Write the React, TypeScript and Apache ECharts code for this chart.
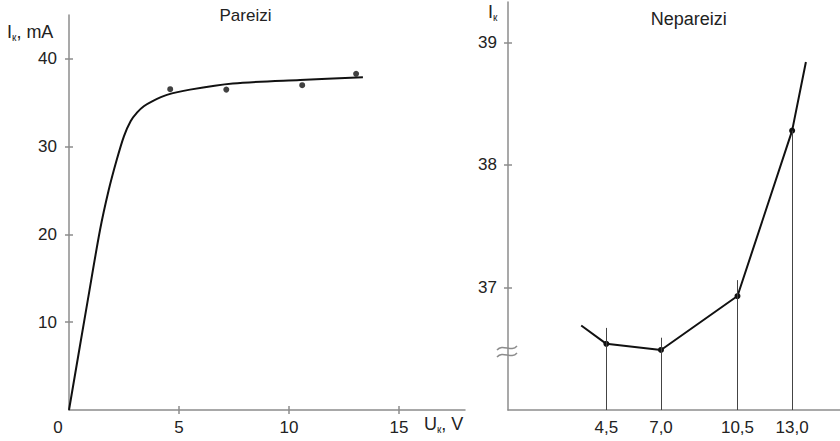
import React, { useEffect, useRef } from "react";
import * as echarts from "echarts";

const leftCurveU = [0, 0.86, 1.41, 1.8, 2.17, 2.5, 2.8, 3.1, 3.4, 3.8, 4.45, 5.5, 7.45, 10.5, 13.36];
const leftCurveI = [0, 12.6, 20.5, 25, 28.5, 31.2, 32.9, 33.9, 34.6, 35.2, 35.9, 36.5, 37.2, 37.6, 37.9];
const leftDotU = [4.6, 7.15, 10.6, 13.05];
const leftDotI = [36.55, 36.5, 37.0, 38.3];
const leftXTicks = [5, 10, 15];
const leftYTicks = [10, 20, 30, 40];

// Right chart: zoomed detail
const rightU = [3.35, 4.5, 7.0, 10.5, 13.0, 13.63];
const rightI = [36.69, 36.54, 36.49, 36.93, 38.28, 38.84];
const measuredU = [4.5, 7.0, 10.5, 13.0];
const dropTop = [36.67, 36.59, 37.06, 38.28];
const rightYTicks = [37, 38, 39];

const AXIS = "#8c8c8c";
const TEXT = "#222";
const FONT = "Liberation Sans";

export default function App() {
  const ref = useRef<HTMLDivElement>(null);
  useEffect(() => {
    if (!ref.current) return;
    const chart = echarts.init(ref.current, null, { renderer: "svg" });
    const lbl = { color: TEXT, fontSize: 17, fontFamily: FONT };
    const sub = {
      a: { fontSize: 18, fontFamily: FONT, fill: TEXT, lineHeight: 20 },
      b: { fontSize: 10, fontFamily: FONT, fill: TEXT, lineHeight: 10, verticalAlign: "bottom" },
    };
    const wave = (y: number) => ({
      type: "bezierCurve",
      shape: { x1: 497, y1: y + 2, cpx1: 503, cpy1: y - 5, cpx2: 511, cpy2: y + 5, x2: 517, y2: y - 2 },
      style: { stroke: "#8c8c8c", lineWidth: 1.5, fill: "none" },
    });
    const option: any = {
      animation: false,
      backgroundColor: "#fff",
      grid: [
        { left: 69, top: 15, width: 396, height: 395 },
        { left: 508, top: 2, width: 332, height: 408 },
      ],
      xAxis: [
        {
          gridIndex: 0, type: "value", min: 0, max: 18,
          splitLine: { show: false },
          axisLine: { lineStyle: { color: AXIS, width: 1.5 } },
          axisTick: { show: true, length: 4, lineStyle: { color: AXIS, width: 1.5 }, customValues: leftXTicks },
          axisLabel: { ...lbl, margin: 9, customValues: leftXTicks },
        },
        {
          gridIndex: 0, type: "value", min: 0, max: 18, position: "bottom",
          splitLine: { show: false }, axisLine: { show: false },
          axisTick: { show: true, inside: true, length: 4, lineStyle: { color: AXIS, width: 1.5 }, customValues: leftXTicks },
          axisLabel: { show: false },
        },
        {
          gridIndex: 1, type: "value", min: 0, max: 15.19,
          splitLine: { show: false },
          axisLine: { lineStyle: { color: AXIS, width: 1.5 } },
          axisTick: { show: false },
          axisLabel: {
            ...lbl, margin: 9, customValues: measuredU,
            formatter: (v: number) => v.toFixed(1).replace(".", ","),
          },
        },
      ],
      yAxis: [
        {
          gridIndex: 0, type: "value", min: 0, max: 45,
          splitLine: { show: false },
          axisLine: { lineStyle: { color: AXIS, width: 1.5 } },
          axisTick: { show: true, length: 4, lineStyle: { color: AXIS, width: 1.5 }, customValues: leftYTicks },
          axisLabel: { ...lbl, margin: 12, customValues: leftYTicks },
        },
        {
          gridIndex: 0, type: "value", min: 0, max: 45, position: "left",
          splitLine: { show: false }, axisLine: { show: false },
          axisTick: { show: true, inside: true, length: 4, lineStyle: { color: AXIS, width: 1.5 }, customValues: leftYTicks },
          axisLabel: { show: false },
        },
        {
          gridIndex: 1, type: "value", min: 36, max: 39.33,
          splitLine: { show: false },
          axisLine: { lineStyle: { color: AXIS, width: 1.5 } },
          axisTick: { show: true, length: 4, lineStyle: { color: AXIS, width: 1.5 }, customValues: rightYTicks },
          axisLabel: { ...lbl, margin: 11, customValues: rightYTicks },
        },
        {
          gridIndex: 1, type: "value", min: 36, max: 39.33, position: "left",
          splitLine: { show: false }, axisLine: { show: false },
          axisTick: { show: true, inside: true, length: 4, lineStyle: { color: AXIS, width: 1.5 }, customValues: rightYTicks },
          axisLabel: { show: false },
        },
      ],
      series: [
        {
          type: "line", xAxisIndex: 0, yAxisIndex: 0,
          data: leftCurveU.map((u, i) => [u, leftCurveI[i]]),
          smooth: 0.3, showSymbol: false, symbol: "none",
          lineStyle: { color: "#111", width: 2 },
        },
        {
          type: "scatter", xAxisIndex: 0, yAxisIndex: 0,
          data: leftDotU.map((u, i) => [u, leftDotI[i]]),
          symbol: "circle", symbolSize: 6, itemStyle: { color: "#111" },
        },
        {
          type: "line", xAxisIndex: 2, yAxisIndex: 2,
          data: rightU.map((u, i) => ({
            value: [u, rightI[i]],
            symbol: measuredU.includes(u) ? "circle" : "none",
          })),
          symbolSize: 6, showSymbol: true,
          itemStyle: { color: "#111" },
          lineStyle: { color: "#111", width: 2 },
          markLine: {
            silent: true, symbol: ["none", "none"], label: { show: false },
            lineStyle: { color: "#444", width: 1, type: "solid" },
            data: measuredU.map((u, i) => [{ coord: [u, 36] }, { coord: [u, dropTop[i]] }]),
          },
          z: 3,
        },
      ],
      graphic: [
        { type: "text", x: 245.5, y: 15, style: { text: "Pareizi", fill: TEXT, fontSize: 17, fontFamily: FONT, align: "center", verticalAlign: "middle" } },
        { type: "text", x: 688.7, y: 19, style: { text: "Nepareizi", fill: TEXT, fontSize: 18, fontFamily: FONT, align: "center", verticalAlign: "middle" } },
        { type: "text", x: 7, y: 22, style: { text: "{a|I}{b|к}{a|, mA}", rich: sub } },
        { type: "text", x: 488, y: 2, style: { text: "{a|I}{b|к}", rich: sub } },
        { type: "text", x: 424, y: 414, style: { text: "{a|U}{b|к}{a|, V}", rich: sub } },
        { type: "text", x: 58, y: 427, style: { text: "0", fill: TEXT, fontSize: 17, fontFamily: FONT, align: "center", verticalAlign: "middle" } },
        wave(348),
        wave(355),
      ],
    };
    chart.setOption(option);
    return () => chart.dispose();
  }, []);
  return <div ref={ref} style={{ position: "fixed", left: 0, top: 0, width: 840, height: 441 }} />;
}
